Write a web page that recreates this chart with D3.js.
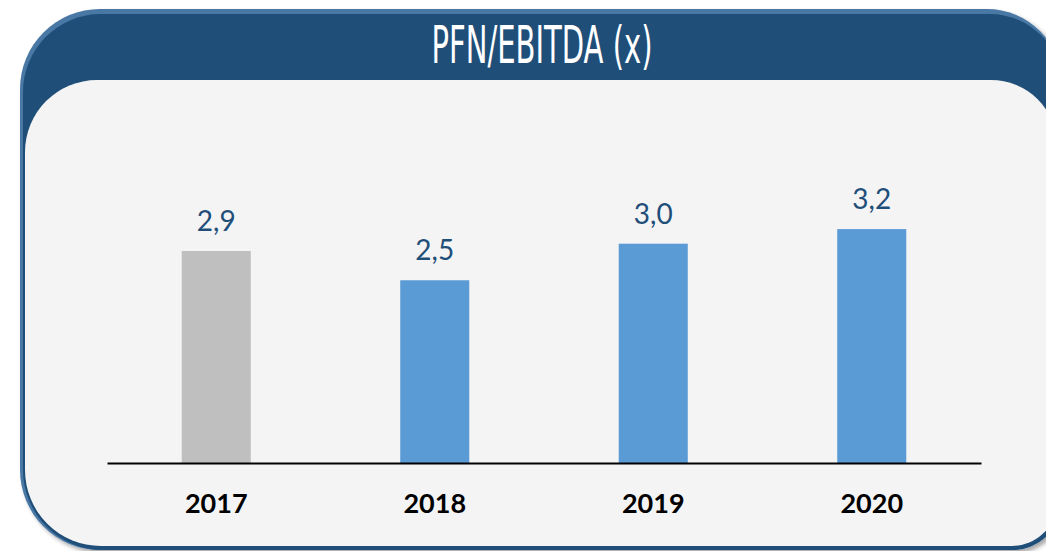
<!DOCTYPE html>
<html>
<head>
<meta charset="utf-8">
<script src="https://cdn.jsdelivr.net/npm/d3@7"></script>
<style>
  body { margin: 0; background: #ffffff; }
  svg { display: block; }
</style>
</head>
<body>
<svg width="1046" height="551"></svg>
<script>
const years = ['2017', '2018', '2019', '2020'];
const values = [2.9, 2.5, 3.0, 3.2];
const barColors = ['#bfbfbf', '#5b9bd5', '#5b9bd5', '#5b9bd5'];
const title = 'PFN/EBITDA (x)';

const svg = d3.select('svg');
const width = +svg.attr('width');
const height = +svg.attr('height');

// rounded box with a different radius on every corner
const roundedBox = (x0, y0, x1, y1, [tl, tr, br, bl]) => {
    const p = d3.path();
    p.moveTo(x0 + tl, y0);
    p.lineTo(x1 - tr, y0);
    p.arcTo(x1, y0, x1, y0 + tr, tr);
    p.lineTo(x1, y1 - br);
    p.arcTo(x1, y1, x1 - br, y1, br);
    p.lineTo(x0 + bl, y1);
    p.arcTo(x0, y1, x0, y1 - bl, bl);
    p.lineTo(x0, y0 + tl);
    p.arcTo(x0, y0, x0 + tl, y0, tl);
    p.closePath();
    return p.toString();
};

const defs = svg.append('defs');
defs.append('filter')
    .attr('id', 'shadow')
    .attr('x', '-5%').attr('y', '-5%')
    .attr('width', '110%').attr('height', '110%')
  .append('feDropShadow')
    .attr('dx', 3).attr('dy', 3)
    .attr('stdDeviation', 2)
    .attr('flood-color', '#000')
    .attr('flood-opacity', 0.35);

// frame
svg.append('path')
    .attr('d', roundedBox(20, 9, 1062, 550, [80, 75, 50, 80]))
    .attr('fill', '#4a78a5')
    .attr('filter', 'url(#shadow)');

svg.append('path')
    .attr('d', roundedBox(23, 14, 1062, 550, [78, 72, 50, 80]))
    .attr('fill', '#1f4e79');

svg.append('path')
    .attr('d', roundedBox(25, 80, 1057, 546, [72, 66, 45, 76]))
    .attr('fill', '#f4f4f4');

svg.append('text')
    .attr('x', 542)
    .attr('y', 63)
    .attr('text-anchor', 'middle')
    .attr('fill', '#ffffff')
    .attr('font-family', '"Liberation Sans Narrow", "DejaVu Sans Condensed", sans-serif')
    .attr('font-size', 51)
    .attr('textLength', 221)
    .attr('lengthAdjust', 'spacingAndGlyphs')
    .text(title);

// chart
const margin = {top: 170, right: 65, bottom: 88, left: 107};
const innerWidth = width - margin.left - margin.right;
const innerHeight = height - margin.top - margin.bottom;

const g = svg.append('g')
    .attr('transform', `translate(${margin.left}, ${margin.top})`);

const xScale = d3.scaleBand()
    .domain(years)
    .range([0, innerWidth])
    .paddingInner(0.684)
    .paddingOuter(0.342);

const yScale = d3.scaleLinear()
    .domain([0, 4])
    .range([innerHeight, innerHeight - 4 * 73.1]);

g.selectAll('rect.bar')
    .data(values)
    .enter().append('rect')
    .attr('class', 'bar')
    .attr('x', (d, i) => xScale(years[i]))
    .attr('y', d => yScale(d))
    .attr('width', xScale.bandwidth())
    .attr('height', d => yScale(0) - yScale(d))
    .attr('fill', (d, i) => barColors[i]);

const fmt = d3.formatLocale({decimal: ',', thousands: '.', grouping: [3], currency: ['', '€']}).format('.1f');

g.selectAll('text.value')
    .data(values)
    .enter().append('text')
    .attr('class', 'value')
    .attr('x', (d, i) => xScale(years[i]) + xScale.bandwidth() / 2)
    .attr('y', d => yScale(d) - 20)
    .attr('text-anchor', 'middle')
    .attr('fill', '#1f4e79')
    .attr('font-family', 'Lato, sans-serif')
    .attr('font-size', 28)
    .text(d => fmt(d));

const xAxis = d3.axisBottom(xScale)
    .tickSize(0)
    .tickPadding(0);

const xAxisG = g.append('g')
    .attr('transform', `translate(0, ${innerHeight})`)
    .call(xAxis);

xAxisG.select('.domain')
    .attr('stroke', '#000')
    .attr('stroke-width', 2);

xAxisG.selectAll('.tick text')
    .attr('dy', 0)
    .attr('y', 50)
    .attr('fill', '#000')
    .attr('font-family', 'Lato, sans-serif')
    .attr('font-weight', 'bold')
    .attr('font-size', 27);
</script>
</body>
</html>
